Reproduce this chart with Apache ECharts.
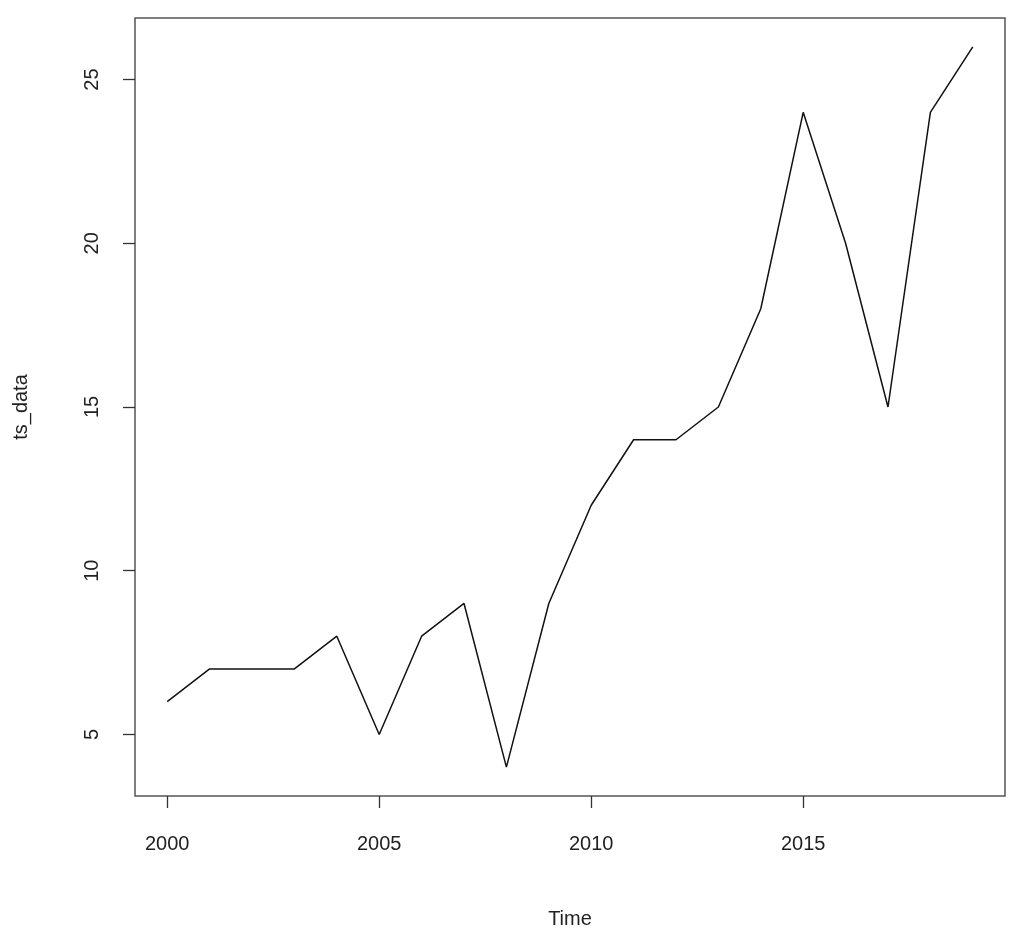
<!DOCTYPE html>
<html><head><meta charset="utf-8">
<script src="https://cdn.jsdelivr.net/npm/echarts@6/dist/echarts.min.js"></script>
<style>html,body{margin:0;background:#fff}#c{width:1024px;height:942px}</style>
</head><body><div id="c"></div>
<script>
const years = [2000,2001,2002,2003,2004,2005,2006,2007,2008,2009,2010,2011,2012,2013,2014,2015,2016,2017,2018,2019];
const values = [6,7,7,7,8,5,8,9,4,9,12,14,14,15,18,24,20,15,24,26];
const xTicks = [2000,2005,2010,2015];
const yTicks = [5,10,15,20,25];
const font = 'Liberation Sans, Arial, sans-serif';
const chart = echarts.init(document.getElementById('c'));
chart.setOption({
  animation:false,
  grid:{left:135,right:19,top:18,bottom:146,show:true,borderColor:'#555',borderWidth:1.5,backgroundColor:'transparent'},
  xAxis:{type:'value',min:1999.24,max:2019.76,name:'Time',nameLocation:'middle',nameGap:113,
    nameTextStyle:{fontFamily:font,fontSize:20,color:'#222'},
    axisLine:{show:false},splitLine:{show:false},
    axisTick:{show:true,customValues:xTicks,length:12,lineStyle:{color:'#333',width:1.3}},
    axisLabel:{customValues:xTicks,margin:38,formatter:v=>String(v),fontFamily:font,fontSize:20,color:'#222'}},
  yAxis:{type:'value',min:3.12,max:26.88,name:'ts_data',nameLocation:'middle',nameGap:104,nameRotate:90,
    nameTextStyle:{fontFamily:font,fontSize:20,color:'#222'},
    axisLine:{show:false},splitLine:{show:false},
    axisTick:{show:true,customValues:yTicks,length:12,lineStyle:{color:'#333',width:1.3}},
    axisLabel:{customValues:yTicks,rotate:90,margin:33,fontFamily:font,fontSize:20,color:'#222'}},
  series:[{type:'line',data:years.map((y,i)=>[y,values[i]]),symbol:'none',
    lineStyle:{color:'#111',width:1.5}}]
});
</script></body></html>
